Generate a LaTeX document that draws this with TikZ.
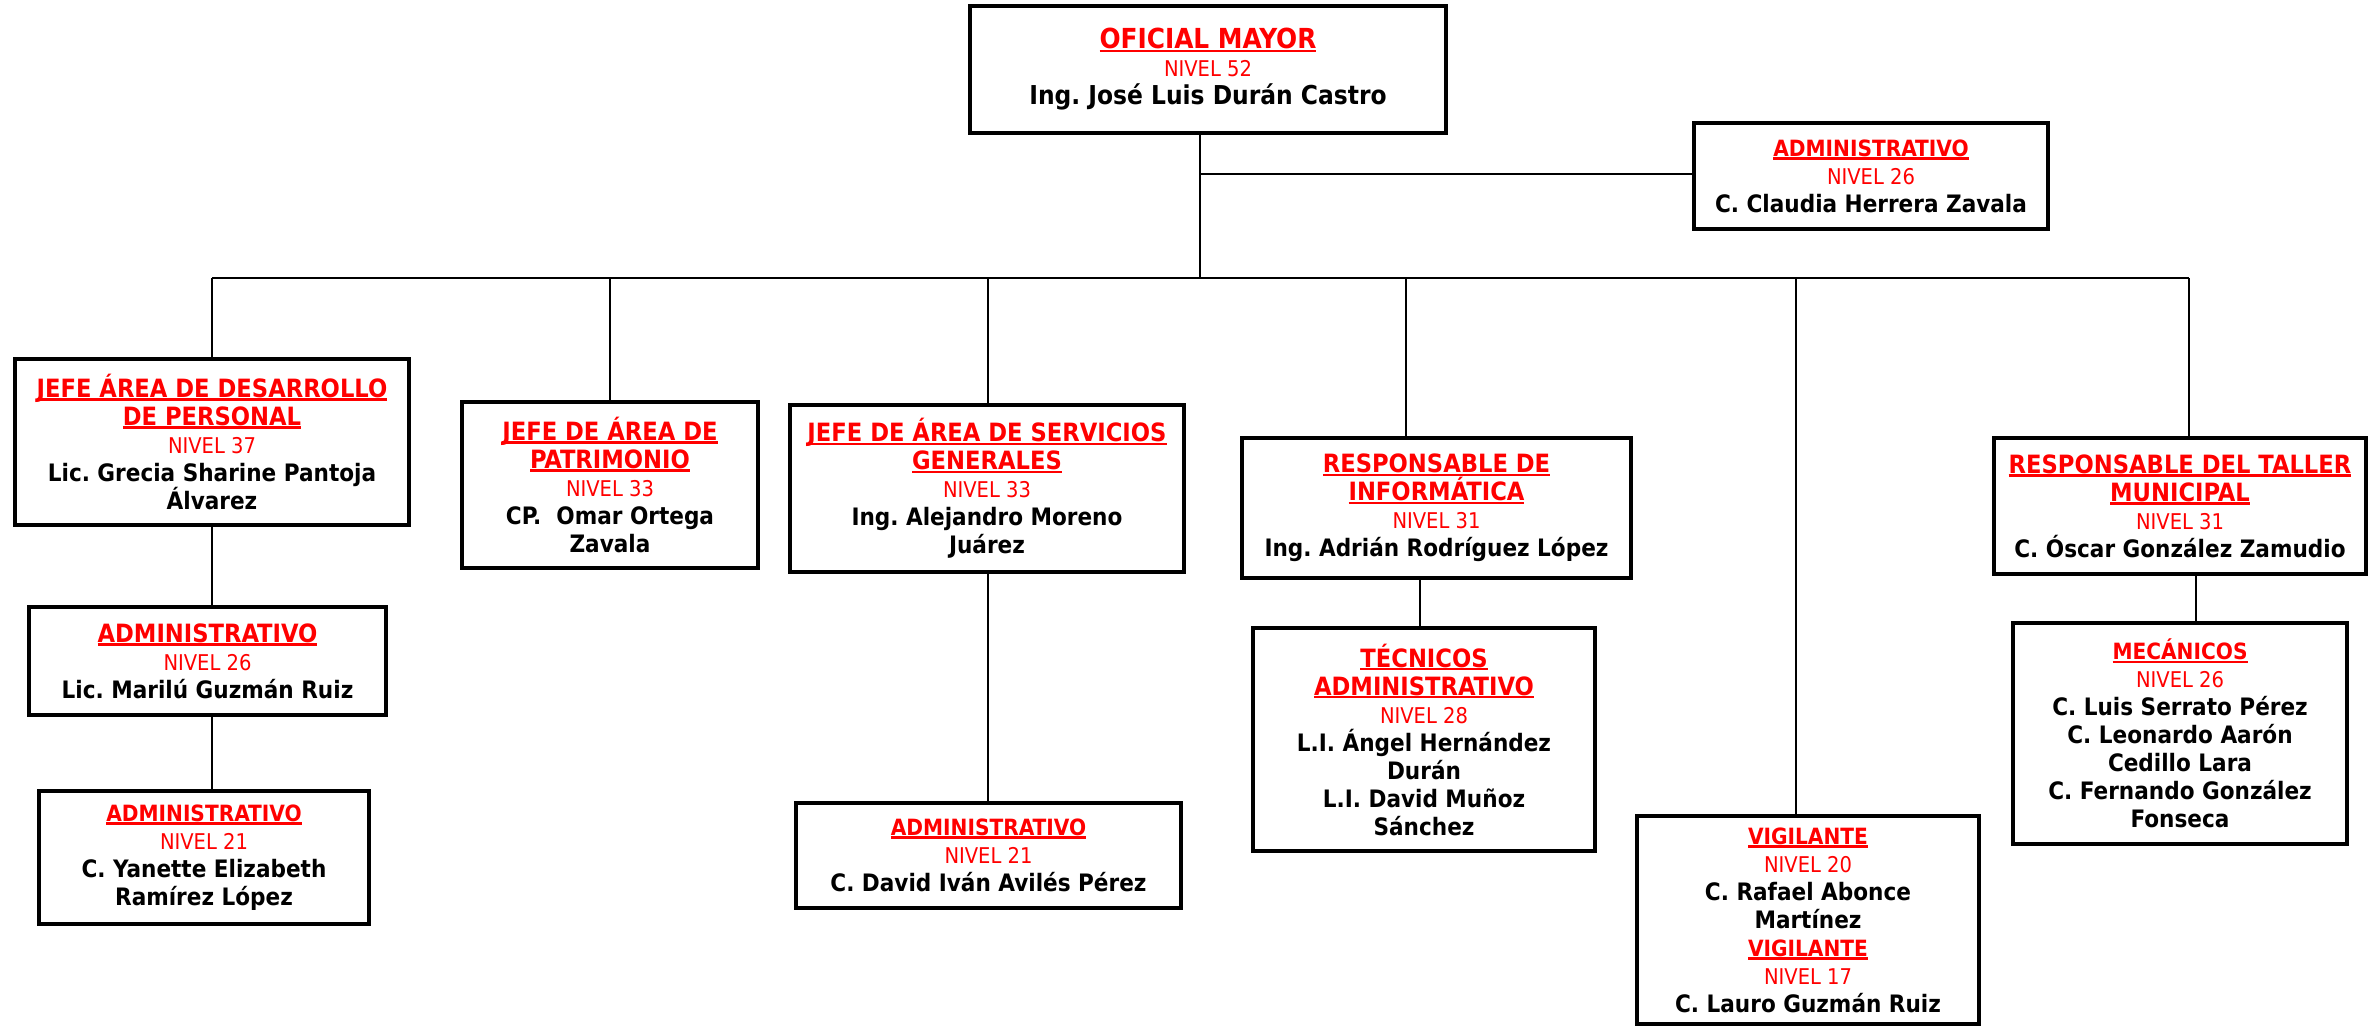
\documentclass[tikz,border=0pt]{standalone}
\usepackage{fontspec}
\IfFontExistsTF{DejaVu Sans Condensed}{\setmainfont{DejaVu Sans Condensed}}{\setmainfont[FakeStretch=0.9]{DejaVu Sans}}
\frenchspacing
\newcommand\rul[1]{\setbox0=\hbox{#1}\rlap{\rule[-1.7pt]{\wd0}{1.3pt}}\box0}
\newcommand\Tb[1]{{\fontsize{13.8pt}{14pt}\selectfont\bfseries\color{red}\rul{#1}}}
\newcommand\Tn[1]{{\fontsize{12.6pt}{14pt}\selectfont\bfseries\color{red}\rul{#1}}}
\newcommand\Ts[1]{{\fontsize{11.2pt}{14pt}\selectfont\bfseries\color{red}\rul{#1}}}
\newcommand\Nv[1]{{\fontsize{10.85pt}{14pt}\selectfont\color{red}#1}}
\newcommand\Nm[1]{{\fontsize{12pt}{14pt}\selectfont\bfseries #1}}
\newcommand\Nb[1]{{\fontsize{13pt}{14pt}\selectfont\bfseries #1}}
\newcommand\obox[6]{\node[obx,minimum width={(#4-#2)*0.5pt},minimum height={(#5-#3)*0.5pt}] (#1) at ({(#2+#4)/2},{(#3+#5)/2}) {#6};}
\begin{document}
\begin{tikzpicture}[x=0.5pt,y=-0.5pt,
  obx/.style={draw=black,line width=2pt,fill=white,inner sep=0pt,align=center,font=\fontsize{12pt}{14pt}\selectfont\frenchspacing},
  conn/.style={draw=black,line width=0.75pt}]
\useasboundingbox (0,0) rectangle (2377,1026);
\fill[white] (0,0) rectangle (2377,1026);

\obox{om}{970}{6}{1446}{133}{\Tb{OFICIAL MAYOR}\\\Nv{NIVEL 52}\\\Nb{Ing. José Luis Durán Castro}}
\obox{adm0}{1694}{123}{2048}{229}{\Ts{ADMINISTRATIVO}\\\Nv{NIVEL 26}\\\Nm{C. Claudia Herrera Zavala}}
\obox{dp}{15}{359}{409}{525}{\Tn{JEFE ÁREA DE DESARROLLO}\\\Tn{DE PERSONAL}\\\Nv{NIVEL 37}\\\Nm{Lic. Grecia Sharine Pantoja}\\\Nm{Álvarez}}
\obox{pat}{462}{402}{758}{568}{\Tn{JEFE DE ÁREA DE}\\\Tn{PATRIMONIO}\\\Nv{NIVEL 33}\\\Nm{CP.~ Omar Ortega}\\\Nm{Zavala}}
\obox{sg}{790}{405}{1184}{572}{\Tn{JEFE DE ÁREA DE SERVICIOS}\\\Tn{GENERALES}\\\Nv{NIVEL 33}\\\Nm{Ing. Alejandro Moreno}\\\Nm{Juárez}}
\obox{inf}{1242}{438}{1631}{578}{\Tn{RESPONSABLE DE}\\\Tn{INFORMÁTICA}\\\Nv{NIVEL 31}\\\Nm{Ing. Adrián Rodríguez López}}
\obox{tal}{1994}{438}{2366}{574}{\Tn{RESPONSABLE DEL TALLER}\\\Tn{MUNICIPAL}\\\Nv{NIVEL 31}\\\Nm{C. Óscar González Zamudio}}
\obox{adm1}{29}{607}{386}{715}{\Tn{ADMINISTRATIVO}\\\Nv{NIVEL 26}\\\Nm{Lic. Marilú Guzmán Ruiz}}
\obox{adm2}{39}{791}{369}{924}{\Ts{ADMINISTRATIVO}\\\Nv{NIVEL 21}\\\Nm{C. Yanette Elizabeth}\\\Nm{Ramírez López}}
\obox{adm3}{796}{803}{1181}{908}{\Ts{ADMINISTRATIVO}\\\Nv{NIVEL 21}\\\Nm{C. David Iván Avilés Pérez}}
\obox{tec}{1253}{628}{1595}{851}{\Tn{TÉCNICOS}\\\Tn{ADMINISTRATIVO}\\\Nv{NIVEL 28}\\\Nm{L.I. Ángel Hernández}\\\Nm{Durán}\\\Nm{L.I. David Muñoz}\\\Nm{Sánchez}}
\obox{vig}{1637}{816}{1979}{1024}{\Ts{VIGILANTE}\\\Nv{NIVEL 20}\\\Nm{C. Rafael Abonce}\\\Nm{Martínez}\\\Ts{VIGILANTE}\\\Nv{NIVEL 17}\\\Nm{C. Lauro Guzmán Ruiz}}
\obox{mec}{2013}{623}{2347}{844}{\Ts{MECÁNICOS}\\\Nv{NIVEL 26}\\\Nm{C. Luis Serrato Pérez}\\\Nm{C. Leonardo Aarón}\\\Nm{Cedillo Lara}\\\Nm{C. Fernando González}\\\Nm{Fonseca}}

\coordinate (jA) at (1200,174);
\coordinate (bC) at (1200,278);
\coordinate (bL) at (212,278);
\coordinate (bR) at (2189,278);
\coordinate (x4) at (610,278);
\coordinate (x5) at (988,278);
\coordinate (x6) at (1406,278);
\coordinate (x12) at (1796,278);
\coordinate (x11) at (1420,0);
\coordinate (x13) at (2196,0);

\draw[conn] (om.south -| bC) -- (bC);
\draw[conn] (jA) -- (adm0.west |- jA);
\draw[conn] (bL) -- (bR);
\draw[conn] (bL) -- (dp.north -| bL);
\draw[conn] (x4) -- (pat.north -| x4);
\draw[conn] (x5) -- (sg.north -| x5);
\draw[conn] (x6) -- (inf.north -| x6);
\draw[conn] (x12) -- (vig.north -| x12);
\draw[conn] (bR) -- (tal.north -| bR);
\draw[conn] (dp.south -| bL) -- (adm1.north -| bL);
\draw[conn] (adm1.south -| bL) -- (adm2.north -| bL);
\draw[conn] (sg.south -| x5) -- (adm3.north -| x5);
\draw[conn] (inf.south -| x11) -- (tec.north -| x11);
\draw[conn] (tal.south -| x13) -- (mec.north -| x13);
\end{tikzpicture}
\end{document}
